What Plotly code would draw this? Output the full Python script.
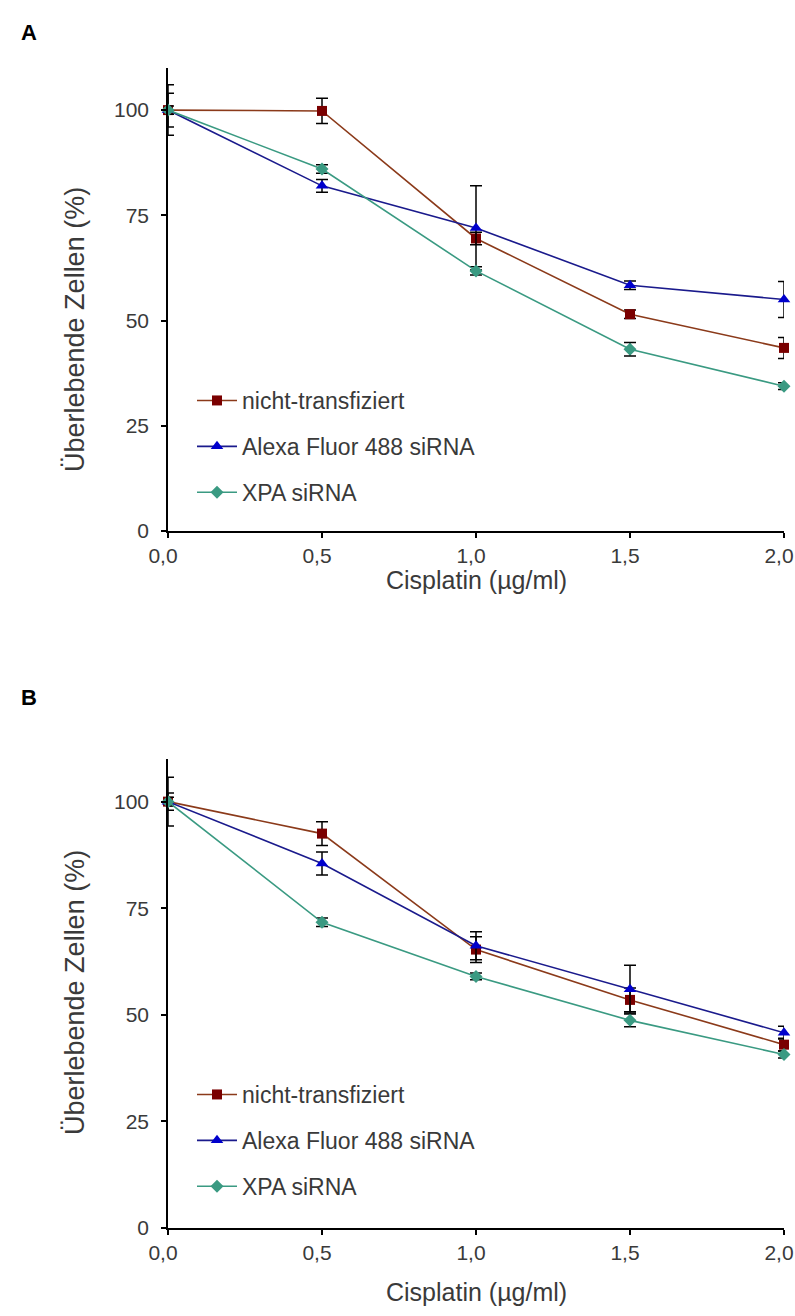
import plotly.graph_objects as go

# ---- data ----
doses = [0, 0.5, 1.0, 1.5, 2.0]
dose_labels = ["0,0", "0,5", "1,0", "1,5", "2,0"]
y_ticks = [0, 25, 50, 75, 100]

series_names = ["nicht-transfiziert", "Alexa Fluor 488 siRNA", "XPA siRNA"]
x_title = "Cisplatin (µg/ml)"
y_title = "Überlebende Zellen (%)"

# Panel A
a_untransfected = [100, 99.8, 69.5, 51.5, 43.5]
a_untransfected_err = [4, 3, 1.5, 1, 2.5]
a_alexa = [100, 82, 72, 58.4, 55]
a_alexa_err = [6, 1.5, 10, 1, 4.3]
a_xpa = [100, 86, 61.8, 43.2, 34.4]
a_xpa_err = [1, 1, 1, 1.6, 0.8]

# Panel B
b_untransfected = [100, 92.5, 65.3, 53.5, 43]
b_untransfected_err = [2, 2.8, 3, 2.8, 1.5]
b_alexa = [100, 85.5, 66.2, 56, 45.8]
b_alexa_err = [5.7, 2.7, 3.3, 5.6, 1.5]
b_xpa = [100, 71.7, 59, 48.7, 40.7]
b_xpa_err = [1, 1, 0.8, 1.5, 0.8]

# ---- styles ----
FW, FH = 795, 1316
FONT = "Liberation Sans, Arial, sans-serif"
TXT = "#3a3a3a"
marker_colors = ["#7a0000", "#0000cc", "#3a9a82"]
line_colors = ["#8b3a1a", "#1a1a8c", "#3a9a82"]
symbols = ["square", "triangle-up", "diamond"]
msizes = [10, 11, 10]

def px_x(p):
    return p / FW

def px_y(p):
    return 1 - p / FH

fig = go.Figure()

panels = [
    ("x", "y", "legend", [(a_untransfected, a_untransfected_err), (a_alexa, a_alexa_err), (a_xpa, a_xpa_err)]),
    ("x2", "y2", "legend2", [(b_untransfected, b_untransfected_err), (b_alexa, b_alexa_err), (b_xpa, b_xpa_err)]),
]

for xa, ya, lg, data in panels:
    for i, (vals, errs) in enumerate(data):
        fig.add_trace(go.Scatter(
            x=doses, y=vals, xaxis=xa, yaxis=ya,
            mode="lines+markers", name=series_names[i],
            legend=lg, legendgroup=f"{lg}_{i}",
            line=dict(color=line_colors[i], width=1.6),
            marker=dict(symbol=symbols[i], size=msizes[i], color=marker_colors[i]),
            error_y=dict(type="data", array=errs, visible=True, color="black", thickness=1.5, width=6),
            cliponaxis=False,
        ))

xdom = [px_x(168), px_x(784)]
ydomA = [px_y(531), px_y(68)]
ydomB = [px_y(1228), px_y(759)]

axis_common = dict(
    showline=True, linecolor="black", linewidth=1.5,
    ticks="outside", ticklen=5, tickcolor="black", tickwidth=1.5,
    showgrid=False, zeroline=False, automargin=False,
    ticklabeloverflow="allow",
    tickfont=dict(family=FONT, size=21, color=TXT),
)

for suffix, ydom in [("", ydomA), ("2", ydomB)]:
    fig.update_layout(**{
        f"xaxis{suffix}": dict(
            axis_common, domain=xdom, range=[0, 2],
            tickvals=doses, ticktext=dose_labels, ticklabelshift=-5,
            anchor=f"y{suffix}",
        ),
        f"yaxis{suffix}": dict(
            axis_common, domain=ydom, range=[0, 110],
            tickvals=y_ticks, ticklabelstandoff=8,
            anchor=f"x{suffix}",
        ),
    })

# axis titles
for (xt_y, yt_y) in [(580, 330), (1292, 993)]:
    fig.add_annotation(text=x_title, x=px_x(476), y=px_y(xt_y), xref="paper", yref="paper",
                       xanchor="center", yanchor="middle",
                       showarrow=False, font=dict(family=FONT, size=25, color=TXT))
    fig.add_annotation(text=y_title, x=px_x(75), y=px_y(yt_y), xref="paper", yref="paper",
                       xanchor="center", yanchor="middle",
                       textangle=-90, showarrow=False, font=dict(family=FONT, size=27, color=TXT))

legend_common = dict(
    font=dict(family=FONT, size=23, color=TXT),
    bgcolor="rgba(0,0,0,0)", borderwidth=0,
    xanchor="left", yanchor="top", tracegroupgap=13,
    itemwidth=40,
)
fig.update_layout(
    legend=dict(legend_common, x=px_x(192), y=px_y(379)),
    legend2=dict(legend_common, x=px_x(192), y=px_y(1073)),
)

for lab, ly in [("A", 32), ("B", 697)]:
    fig.add_annotation(text=f"<b>{lab}</b>", x=px_x(29), y=px_y(ly), xref="paper", yref="paper",
                       xanchor="center", yanchor="middle",
                       showarrow=False, font=dict(family=FONT, size=22, color="black"))

fig.update_layout(
    width=FW, height=FH,
    margin=dict(l=0, r=0, t=0, b=0),
    paper_bgcolor="white", plot_bgcolor="white",
    showlegend=True,
)

fig.write_html(
    "out.html",
    config={"displayModeBar": False},
    post_script="document.body.style.margin='0px'; document.body.style.overflow='hidden';",
)
